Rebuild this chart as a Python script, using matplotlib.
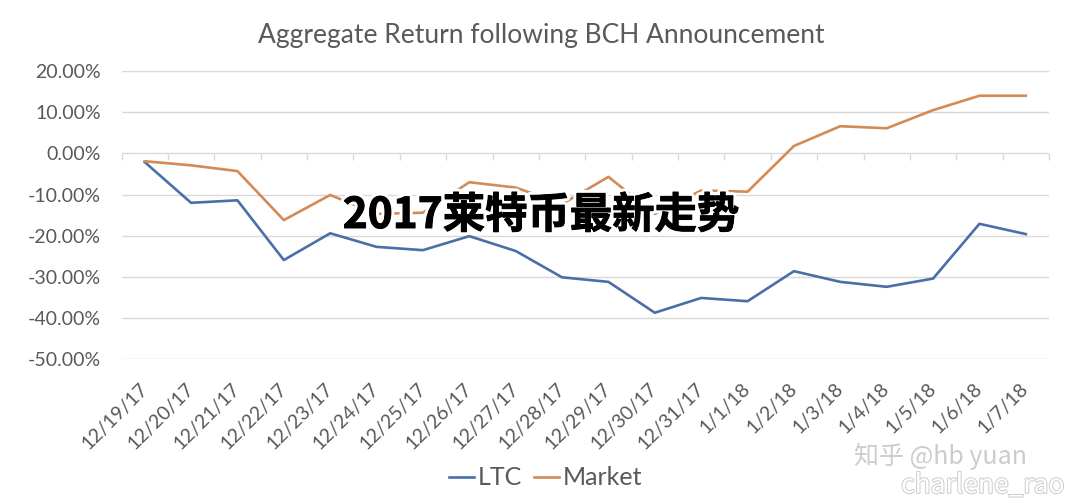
import numpy as np
import matplotlib
matplotlib.use("Agg")
import matplotlib.pyplot as plt
import matplotlib.patheffects as pe
from matplotlib.ticker import FuncFormatter

dates = ["12/19/17", "12/20/17", "12/21/17", "12/22/17", "12/23/17", "12/24/17",
         "12/25/17", "12/26/17", "12/27/17", "12/28/17", "12/29/17", "12/30/17",
         "12/31/17", "1/1/18", "1/2/18", "1/3/18", "1/4/18", "1/5/18", "1/6/18", "1/7/18"]
ltc = [-2.1, -12.0, -11.4, -25.9, -19.4, -22.7, -23.5, -20.1, -23.7, -30.1,
       -31.2, -38.7, -35.1, -35.9, -28.6, -31.2, -32.4, -30.4, -17.1, -19.6]
market = [-1.9, -2.9, -4.3, -16.2, -10.1, -14.7, -14.4, -7.0, -8.3, -12.3,
          -5.7, -14.7, -9.0, -9.3, 1.8, 6.6, 6.1, 10.5, 14.0, 14.0]
yticks = [20, 10, 0, -10, -20, -30, -40, -50]

title = "Aggregate Return following BCH Announcement"
overlay = "2017莱特币最新走势"

TXT = "#595959"
GRID = "#d9d9d9"
BLUE = "#4A6FA8"
ORANGE = "#D38A55"

plt.rcParams['font.family'] = ['Lato', 'DejaVu Sans']

fig = plt.figure(figsize=(10.8, 5.03), dpi=100)
ax = fig.add_axes([0.1125, 0.2857, 0.9713 - 0.1125, 0.8588 - 0.2857])

x = np.arange(len(dates))
ax.plot(x, ltc, color=BLUE, lw=1.9, label="LTC")
ax.plot(x, market, color=ORANGE, lw=1.9, label="Market")

ax.set_xlim(-0.5, len(dates) - 0.5)
ax.set_ylim(-50, 20)
ax.set_yticks(yticks)
ax.yaxis.set_major_formatter(FuncFormatter(lambda v, p: f"{v:.2f}%"))
ax.grid(axis='y', color=GRID, lw=1.0)
ax.set_axisbelow(True)
for s in ax.spines.values():
    s.set_visible(False)
ax.tick_params(axis='y', length=0, pad=15, labelsize=14, labelcolor=TXT)

ax.set_xticks(x)
ax.set_xticklabels(dates, rotation=45, ha='right', va='center', rotation_mode='anchor')
ax.tick_params(axis='x', length=0, pad=19, labelsize=14, labelcolor=TXT)

# category axis crossing at 0%
sec = ax.secondary_xaxis(50 / 70)
sec.set_xticks(np.arange(len(dates) + 1) - 0.5)
sec.set_xticklabels([])
sec.tick_params(axis='x', direction='out', length=5, width=1, color=GRID, labelbottom=False)
sec.spines['bottom'].set_color(GRID)
sec.spines['bottom'].set_linewidth(1.2)
for k in ['top', 'left', 'right']:
    sec.spines[k].set_visible(False)
sec.xaxis.set_ticks_position('bottom')

fig.text(0.501, 0.93, title, ha='center', va='center', fontsize=19, color=TXT)

leg = fig.legend(loc='center', bbox_to_anchor=(0.505, 0.05), ncol=2, frameon=False,
                 fontsize=18, handlelength=1.0, handletextpad=0.15, columnspacing=0.5,
                 labelcolor=TXT)

fig.text(0.501, 0.5706, overlay, ha='center', va='center', fontsize=30.5, fontweight='bold',
         color='black', family=['Noto Sans CJK SC', 'DejaVu Sans'],
         path_effects=[pe.Stroke(linewidth=5, foreground='white'),
                       pe.Stroke(linewidth=0.7, foreground='black'),
                       pe.Normal()])

fig.text(0.871, 0.093, "知乎 @hb yuan", ha='center', va='center', fontsize=18,
         color='#cccccc', family=['Noto Sans CJK SC', 'DejaVu Sans'])
fig.text(0.91, 0.035, "charlene_rao", ha='center', va='center', fontsize=19,
         color='white', family=['Noto Sans CJK SC', 'DejaVu Sans'],
         path_effects=[pe.withStroke(linewidth=1.5, foreground='#cfcfcf')])

fig.savefig("out.png", dpi=100, facecolor='white')
